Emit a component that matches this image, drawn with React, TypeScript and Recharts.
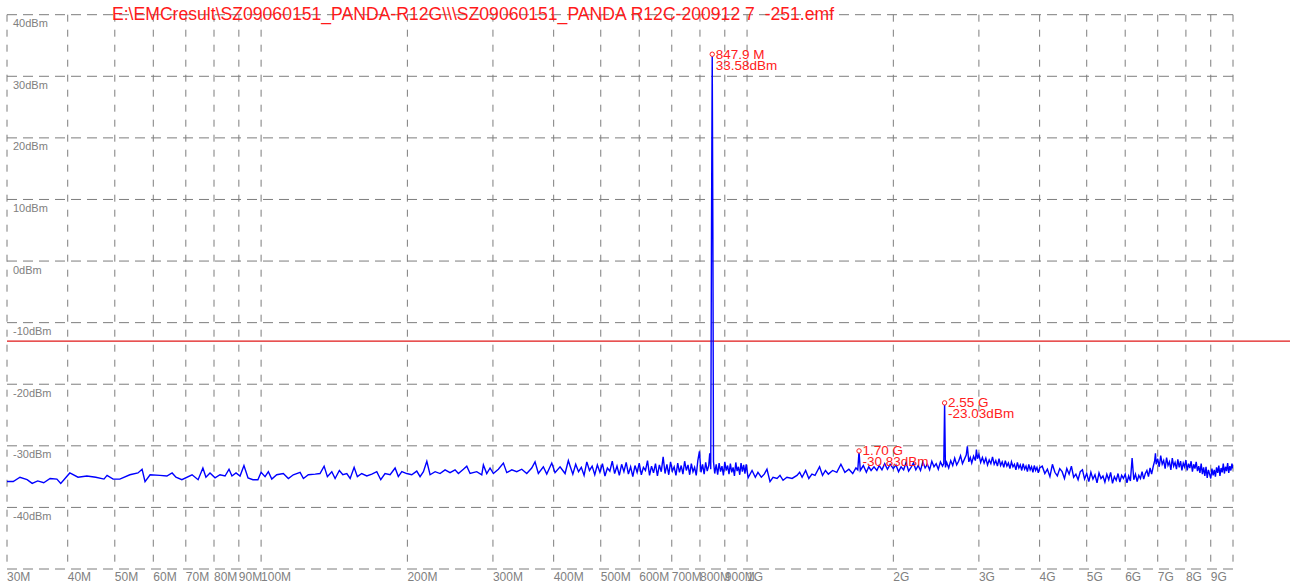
import React from "react";
import {
  ComposedChart,
  Line,
  XAxis,
  YAxis,
  CartesianGrid,
  ReferenceLine,
  ReferenceDot,
} from "recharts";

// ---- axis definitions (frequency in MHz, level in dBm) ----
const X_TICKS = [30, 40, 50, 60, 70, 80, 90, 100, 200, 300, 400, 500, 600, 700, 800, 900, 1000, 2000, 3000, 4000, 5000, 6000, 7000, 8000, 9000, 10000];
const X_LABELS = ["30M", "40M", "50M", "60M", "70M", "80M", "90M", "100M", "200M", "300M", "400M", "500M", "600M", "700M", "800M", "900M", "1G", "2G", "3G", "4G", "5G", "6G", "7G", "8G", "9G", ""];
const Y_TICKS = [-50, -40, -30, -20, -10, 0, 10, 20, 30, 40];
const Y_LABELS = ["", "-40dBm", "-30dBm", "-20dBm", "-10dBm", "0dBm", "10dBm", "20dBm", "30dBm", "40dBm"];

const TITLE = "E:\\EMCresult\\SZ09060151_PANDA-R12G\\\\\\SZ09060151_PANDA R12C-200912 7  -251.emf";

const LIMIT_DBM = -13;
const LIMIT_END_MHZ = 13100;

// ---- markers ----
const MARKER_FREQ = [847.9, 1700, 2550];
const MARKER_LEVEL = [33.58, -30.83, -23.03];
const MARKER_TEXT = ["847.9 M", "1.70 G", "2.55 G"];

// ---- trace: [MHz, dBm] ----
const BAND_30_100: [number, number][] = [
  [30.0, -35.8], [30.9, -35.8], [31.9, -35.1], [33.0, -35.5], [33.8, -36.1], [34.7, -35.7], [35.7, -36.0], [36.8, -35.3],
  [38.0, -35.4], [38.7, -36.1], [40.4, -34.4], [42.0, -35.1], [43.8, -34.9], [45.7, -35.1], [47.5, -35.4], [48.2, -34.8],
  [49.6, -35.4], [51.2, -35.4], [53.7, -34.7], [55.8, -34.4], [56.9, -33.8], [57.7, -35.8], [59.1, -34.7], [61.9, -34.8],
  [64.0, -34.9], [65.6, -34.4], [66.8, -35.1], [68.7, -35.5], [72.1, -34.7], [74.2, -35.5], [75.9, -33.6], [77.0, -35.1],
  [78.5, -34.4], [80.4, -35.2], [82.3, -34.7], [84.3, -34.9], [85.9, -33.8], [87.1, -34.9], [88.8, -34.4], [90.5, -34.9],
  [92.2, -33.2], [94.0, -35.2], [96.2, -35.5], [98.5, -35.5],
];

const BAND_100_430: [number, number][] = [
  [100, -34.3], [101.9, -35.0], [103.5, -34.2], [105.2, -35.4], [107.7, -34.7], [111.1, -34.5], [113.8, -35.3], [116.5, -34.7],
  [120.3, -34.3], [122.2, -35.3], [125.1, -34.7], [129.2, -34.6], [132.2, -34.5], [134.8, -33.3], [136.9, -35.0], [139.8, -34.2],
  [142.0, -35.3], [144.9, -34.0], [147.3, -34.7], [150.1, -34.5], [152.5, -35.3], [155.4, -33.5], [157.8, -35.0], [161.1, -34.5],
  [165.0, -34.9], [169.0, -34.6], [173.0, -34.2], [176.3, -35.5], [179.9, -34.5], [184.3, -34.7], [188.7, -33.6], [191.6, -35.0],
  [194.8, -34.2], [199.4, -34.5], [204.2, -34.7], [209.1, -34.1], [212.4, -35.0], [215.8, -34.2], [219.3, -32.5], [222.7, -34.7],
  [228.1, -34.2], [233.5, -34.5], [239.1, -33.9], [244.8, -34.35], [250.7, -33.9], [254.7, -34.5], [260.8, -33.8], [265.0, -33.3],
  [269.2, -34.5], [277.8, -34.2], [284.5, -34.7], [286.7, -33.1], [291.3, -34.5], [295.9, -33.6], [300.6, -34.5], [307.8, -33.8],
  [315.2, -32.8], [320.3, -34.35], [328.0, -33.9], [335.8, -34.2], [343.9, -33.8], [352.1, -34.5], [360.5, -33.6], [366.2, -32.6],
  [372.0, -34.5], [380.9, -33.4], [387.1, -34.6], [396.4, -32.8], [402.6, -34.35], [412.3, -33.4], [422.2, -34.5], [428.8, -32.4],
];

const BAND_430_1000: [number, number][] = [
  [432, -33.2], [438, -34.6], [444, -33.0], [450, -34.2], [456, -33.5], [462, -34.8], [468, -32.6], [474, -34.0],
  [480, -33.3], [486, -34.7], [492, -33.1], [498, -34.3], [504, -32.9], [510, -34.9], [516, -33.6], [522, -34.1],
  [528, -32.5], [534, -34.5], [540, -33.3], [546, -34.8], [552, -33.0], [558, -34.2], [564, -32.7], [570, -34.6],
  [576, -33.4], [582, -35.0], [588, -33.2], [594, -34.3], [600, -32.8], [606, -34.7], [612, -33.5], [618, -34.0],
  [624, -32.4], [630, -34.8], [636, -33.3], [642, -34.4], [648, -32.9], [654, -34.9], [660, -33.1], [666, -34.2],
  [672, -31.8], [678, -34.5], [684, -33.0], [690, -34.7], [696, -32.6], [702, -34.1], [708, -33.4], [714, -34.8],
  [720, -32.8], [726, -34.3], [732, -33.2], [738, -34.6], [744, -32.5], [750, -34.0], [756, -33.1], [762, -34.7],
  [768, -32.9], [774, -34.2], [780, -33.5], [786, -34.8], [792, -32.4], [798, -30.9], [804, -34.3], [810, -33.0],
  [816, -34.6], [822, -32.7], [828, -34.1], [834, -33.2], [838, -31.2], [842, -33.8], [845, 5], [847.9, 33.58],
  [850.5, 5], [853, -32.6], [858, -34.5], [864, -33.0], [870, -34.7], [876, -32.8], [882, -34.2], [888, -33.3],
  [894, -34.8], [900, -32.6], [906, -34.0], [912, -33.2], [918, -34.6], [924, -32.9], [930, -34.3], [936, -33.5],
  [942, -34.9], [948, -32.7], [954, -34.1], [960, -33.4], [966, -34.7], [972, -32.8], [978, -34.2], [984, -33.1],
  [990, -34.5], [996, -33.0],
];

const BAND_1G_2G: [number, number][] = [
  [1000, -34.0], [1005, -35.2], [1024, -34.0], [1040, -35.1], [1053, -34.3], [1070, -35.1], [1085, -34.6], [1099, -33.8],
  [1115, -35.8], [1131, -35.1], [1153, -35.3], [1169, -34.8], [1186, -35.6], [1208, -35.1], [1238, -35.3], [1267, -34.8],
  [1283, -34.3], [1298, -35.1], [1320, -34.0], [1340, -35.3], [1360, -34.6], [1380, -34.8], [1410, -33.4], [1430, -34.8],
  [1450, -34.0], [1470, -34.6], [1500, -34.0], [1530, -34.3], [1560, -33.0], [1590, -34.3], [1620, -33.8], [1650, -34.5],
  [1675, -33.6], [1690, -33.9], [1700, -30.83], [1710, -34.0], [1735, -33.2], [1760, -34.3], [1780, -33.4], [1800, -34.0],
  [1825, -33.4], [1850, -34.0], [1870, -33.2], [1895, -33.9], [1920, -32.9], [1945, -33.8], [1970, -33.0], [2000, -33.7],
];

const BAND_2G_4G: [number, number][] = [
  [2025, -33.1], [2050, -34.2], [2075, -33.4], [2100, -33.9], [2125, -32.7], [2150, -34.1], [2175, -33.5], [2200, -32.8],
  [2225, -33.9], [2250, -33.2], [2275, -34.0], [2300, -32.6], [2325, -33.6], [2350, -33.0], [2375, -33.9], [2400, -32.5],
  [2425, -33.4], [2450, -32.9], [2475, -33.8], [2500, -32.6], [2525, -33.3], [2540, -32.9], [2550, -23.03], [2560, -33.5],
  [2575, -32.7], [2600, -33.6], [2625, -32.4], [2650, -33.2], [2675, -32.0], [2700, -33.1], [2725, -32.5], [2750, -31.6],
  [2775, -32.9], [2800, -32.2], [2825, -31.5], [2840, -30.1], [2860, -32.6], [2880, -31.9], [2900, -32.8], [2925, -31.7],
  [2950, -32.4], [2965, -30.6], [2980, -32.1], [3000, -31.4], [3025, -32.7], [3050, -31.9], [3075, -32.8], [3100, -32.0],
  [3125, -33.1], [3150, -32.3], [3175, -32.9], [3200, -31.8], [3225, -33.0], [3250, -32.4], [3275, -33.3], [3300, -32.1],
  [3325, -33.2], [3350, -32.6], [3375, -33.5], [3400, -32.4], [3425, -33.3], [3450, -32.8], [3475, -33.7], [3500, -32.6],
  [3525, -33.4], [3550, -33.0], [3575, -33.9], [3600, -32.7], [3625, -33.6], [3650, -33.1], [3675, -34.0], [3700, -32.9],
  [3725, -33.8], [3750, -33.3], [3775, -34.2], [3800, -33.0], [3825, -33.9], [3850, -33.4], [3875, -34.3], [3900, -33.2],
  [3925, -34.0], [3950, -33.5], [3975, -34.4], [4000, -33.6],
];

const BAND_4G_10G: [number, number][] = [
  [4050, -33.3], [4100, -34.5], [4150, -33.8], [4200, -35.0], [4250, -33.0], [4300, -34.3], [4350, -34.9], [4400, -33.7],
  [4450, -34.2], [4500, -35.3], [4550, -33.7], [4600, -34.6], [4650, -33.3], [4700, -35.1], [4750, -34.6], [4800, -35.5],
  [4850, -34.2], [4900, -33.9], [4950, -35.4], [5000, -34.5], [5050, -35.8], [5100, -34.3], [5150, -35.4], [5200, -34.7],
  [5250, -36.0], [5300, -34.4], [5350, -35.3], [5400, -34.9], [5450, -35.9], [5500, -34.6], [5550, -35.5], [5600, -34.3],
  [5650, -36.1], [5700, -35.0], [5750, -35.6], [5800, -34.5], [5850, -35.9], [5900, -34.8], [5950, -35.3], [6000, -34.6],
  [6050, -36.0], [6100, -34.9], [6150, -35.7], [6200, -32.0], [6250, -35.5], [6300, -34.6], [6350, -35.8], [6400, -34.8],
  [6450, -35.3], [6500, -34.2], [6550, -35.4], [6600, -34.5], [6650, -34.0], [6700, -35.0], [6750, -33.6], [6800, -34.6],
  [6850, -33.4], [6900, -32.4], [6925, -31.2], [6950, -33.0], [7000, -32.1], [7050, -33.4], [7100, -31.6], [7150, -33.0],
  [7200, -32.4], [7250, -33.7], [7300, -31.9], [7350, -33.2], [7400, -32.6], [7450, -33.9], [7500, -32.0], [7550, -33.3],
  [7600, -32.7], [7650, -33.8], [7700, -32.2], [7750, -33.5], [7800, -32.5], [7850, -34.0], [7900, -32.8], [7950, -33.4],
  [8000, -32.3], [8050, -34.0], [8100, -32.9], [8150, -33.6], [8200, -32.5], [8250, -34.2], [8300, -33.0], [8350, -33.7],
  [8400, -32.6], [8450, -34.1], [8500, -33.3], [8550, -34.4], [8600, -32.9], [8650, -34.6], [8700, -33.5], [8750, -34.9],
  [8800, -33.4], [8850, -35.2], [8900, -33.9], [8950, -34.6], [9000, -35.3], [9050, -33.7], [9100, -34.8], [9150, -33.9],
  [9200, -35.0], [9250, -33.5], [9300, -34.4], [9350, -33.2], [9400, -34.9], [9450, -33.6], [9500, -34.3], [9550, -32.9],
  [9600, -34.5], [9650, -33.4], [9700, -34.1], [9750, -32.8], [9800, -34.4], [9850, -33.3], [9900, -34.0], [9950, -32.9],
  [10000, -33.7],
];

const traceData = [
  ...BAND_30_100,
  ...BAND_100_430,
  ...BAND_430_1000,
  ...BAND_1G_2G,
  ...BAND_2G_4G,
  ...BAND_4G_10G,
].map(([f, v]) => ({ f, v }));

const FONT = "'Liberation Sans', Arial, Helvetica, sans-serif";
const GRID = "#7d7d7d";
const LABEL = "#808080";

const XTick = (props: any) => {
  const { x, y, payload } = props;
  const i = X_TICKS.indexOf(payload.value);
  const txt = i >= 0 ? X_LABELS[i] : "";
  return (
    <text x={x} y={y + 11.7} fontSize={12} fill={LABEL} fontFamily={FONT} textAnchor="start">
      {txt}
    </text>
  );
};

const YTick = (props: any) => {
  const { y, payload } = props;
  const i = Y_TICKS.indexOf(payload.value);
  const txt = i >= 0 ? Y_LABELS[i] : "";
  return (
    <text x={13} y={y + 12.5} fontSize={11} fill={LABEL} fontFamily={FONT} textAnchor="start">
      {txt}
    </text>
  );
};

const makeMarkerShape = (idx: number) => (props: any) => {
  const { cx, cy } = props;
  return (
    <g>
      <circle cx={cx} cy={cy} r={2.2} stroke="#ff2020" strokeWidth={1} fill="#ffffff" />
      <text x={cx + 3.5} y={cy + 4.3} fontSize={13.5} fill="#ff2020" fontFamily={FONT}>
        {MARKER_TEXT[idx]}
      </text>
      <text x={cx + 3.5} y={cy + 15.3} fontSize={13.5} fill="#ff2020" fontFamily={FONT}>
        {MARKER_LEVEL[idx].toFixed(2) + "dBm"}
      </text>
    </g>
  );
};

export default function App() {
  return (
    <div style={{ position: "absolute", left: 0, top: 0, width: 1298, height: 588, background: "#ffffff" }}>
      <ComposedChart
        width={1298}
        height={588}
        data={traceData}
        margin={{ top: 14.7, right: 65, bottom: 0, left: 5 }}
      >
        <CartesianGrid horizontal={true} vertical={false} stroke={GRID} strokeDasharray="10 6" />
        <CartesianGrid horizontal={false} vertical={true} stroke={GRID} strokeDasharray="7 8" />
        <XAxis
          dataKey="f"
          type="number"
          scale="log"
          domain={[30, 10000]}
          ticks={X_TICKS}
          interval={0}
          allowDataOverflow={true}
          axisLine={false}
          tickLine={false}
          tickSize={0}
          tickMargin={0}
          height={19}
          tick={<XTick />}
        />
        <YAxis
          type="number"
          domain={[-50, 40]}
          ticks={Y_TICKS}
          interval={0}
          allowDataOverflow={true}
          axisLine={false}
          tickLine={false}
          tickSize={0}
          tickMargin={0}
          width={2}
          tick={<YTick />}
        />
        <ReferenceLine
          segment={[{ x: 30, y: LIMIT_DBM }, { x: LIMIT_END_MHZ, y: LIMIT_DBM }]}
          stroke="#e01818"
          strokeWidth={1.3}
          ifOverflow="visible"
        />
        <Line
          dataKey="v"
          type="linear"
          stroke="#0000ff"
          strokeWidth={1.4}
          dot={false}
          activeDot={false}
          isAnimationActive={false}
        />
        {MARKER_FREQ.map((f, i) => (
          <ReferenceDot key={i} x={f} y={MARKER_LEVEL[i]} r={2.2} shape={makeMarkerShape(i)} ifOverflow="visible" />
        ))}
      </ComposedChart>
      <svg width={1298} height={40} style={{ position: "absolute", left: 0, top: 0, pointerEvents: "none" }}>
        <text x={112} y={20} fontSize={17.6} fill="#ff1a1a" fontFamily={FONT} style={{ whiteSpace: "pre" }}>
          {TITLE}
        </text>
      </svg>
    </div>
  );
}
